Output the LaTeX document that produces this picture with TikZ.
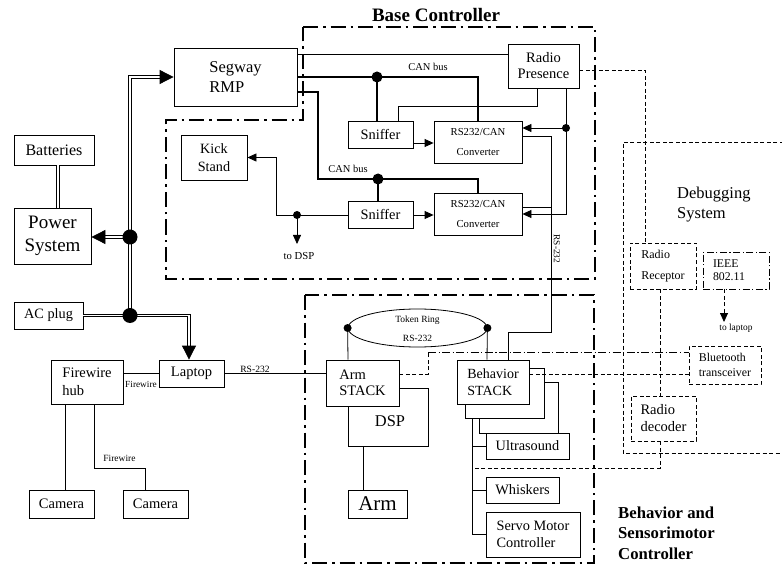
\documentclass[tikz,border=0pt]{standalone}
\usepackage{fontspec}
\setmainfont{Liberation Serif}
\usetikzlibrary{arrows.meta,shapes.geometric}
\newcommand{\fsz}[2]{\fontsize{#1}{#2}\selectfont}
\begin{document}
\begin{tikzpicture}[x=1pt,y=-1pt,
  box/.style={draw, line width=0.8pt, fill=white, inner sep=0pt, align=left},
  dbox/.style={box, dash pattern=on 4pt off 2.5pt},
  ddbox/.style={box, dash pattern=on 7pt off 2.5pt on 1.2pt off 2.5pt},
  ln/.style={line width=0.8pt},
  canbus/.style={line width=2.6pt},
  dbl/.style={line width=0.8pt, double=white, double distance=1.8pt},
  dsh/.style={line width=0.8pt, dash pattern=on 4pt off 2.5pt},
  dshdot/.style={line width=0.8pt, dash pattern=on 8pt off 2.5pt on 1.2pt off 2.5pt},
  region/.style={line width=2.6pt, dash pattern=on 15pt off 5pt on 2.5pt off 5pt},
  arrbig/.style={-{Triangle[length=14pt,width=14pt]}},
  arr/.style={-{Triangle[length=9pt,width=8pt]}},
  jdot/.style={circle, fill, inner sep=0pt, minimum size=#1},
  lbl/.style={inner sep=0pt, font=\fsz{#1}{#1}},
]
\useasboundingbox (0,0) rectangle (782,572);
% regions
\draw[region] (303,27) -- (595,27) -- (595,279) -- (166,279) -- (166,120) -- (303,120) -- cycle;
\draw[region] (305,295) rectangle (594,563);
\draw[dsh] (790,142) -- (623,142) -- (623,453) -- (790,453);
\node[font=\bfseries\fsz{19}{22}, inner sep=0pt] (basetitle) at (436,15) {Base Controller};
\node[font=\bfseries\fsz{16.7}{20.5}, align=left, anchor=west, inner sep=0pt] (bsctitle) at (618,533) {Behavior and\\Sensorimotor\\Controller};
\node[font=\fsz{16.5}{20}, align=left, anchor=west, inner sep=0pt] (dbgtitle) at (677,205) {Debugging\\System};

\coordinate (jP) at (130,237);
\coordinate (jA) at (130,315.5);

% boxes
\node[box, minimum width=123pt, minimum height=58pt, font=\fsz{16.5}{20}] (segway) at (235.5,77) {Segway\\RMP};
\node[box, minimum width=80pt, minimum height=30pt, font=\fsz{16}{18}] (batteries) at (54,150) {Batteries};
\node[box, align=center, minimum width=77pt, minimum height=56pt, font=\fsz{19}{23}] (power) at (52.5,236) {Power\\System};
\node[box, minimum width=69pt, minimum height=27pt, font=\fsz{14.3}{16}] (acplug) at (48.5,315.5) {AC plug};
\node[box, minimum width=65pt, minimum height=27pt, font=\fsz{14.5}{16}] (laptop) at (191.5,373.5) {Laptop};
\node[box, minimum width=72pt, minimum height=44pt, font=\fsz{14.5}{18}] (fwhub) at (87,382) {Firewire\\hub};
\node[box, minimum width=65pt, minimum height=28pt, font=\fsz{14.5}{16}] (cam1) at (61.5,504) {Camera};
\node[box, minimum width=65pt, minimum height=28pt, font=\fsz{14.5}{16}] (cam2) at (155.5,504) {Camera};
\node[box, align=center, minimum width=66pt, minimum height=45pt, font=\fsz{14.2}{18}] (kick) at (214,157.5) {Kick\\Stand};
\node[box, minimum width=65pt, minimum height=27pt, font=\fsz{14.4}{16}] (sniff1) at (380.5,134.5) {Sniffer};
\node[box, minimum width=65pt, minimum height=27pt, font=\fsz{14.4}{16}] (sniff2) at (380.5,214.5) {Sniffer};
\node[box, align=center, minimum width=88pt, minimum height=42pt, font=\fsz{10.7}{20}] (conv1) at (478,142) {RS232/CAN\\Converter};
\node[box, align=center, minimum width=88pt, minimum height=42pt, font=\fsz{10.7}{20}] (conv2) at (478,214) {RS232/CAN\\Converter};
\node[box, align=center, minimum width=71pt, minimum height=44pt, font=\fsz{14.5}{16}] (radiop) at (543.5,66) {Radio\\Presence};
\node[dbox, minimum width=66pt, minimum height=46pt, font=\fsz{12}{21}] (radiorec) at (663,266) {Radio\\Receptor};
\node[ddbox, minimum width=66pt, minimum height=37pt, text width=46pt, inner xsep=10pt, font=\fsz{11.8}{13}] (ieee) at (736,270.5) {IEEE\\802.11};
\node[dbox, minimum width=72pt, minimum height=38pt, font=\fsz{11.9}{15}] (bluetooth) at (725,365) {Bluetooth\\transceiver};
\node[dbox, minimum width=65pt, minimum height=45pt, font=\fsz{14.5}{17}] (raddec) at (663.5,418.5) {Radio\\decoder};
\node[box, minimum width=80pt, minimum height=58pt] (dsp) at (388,417) {};
\node[box, minimum width=73pt, minimum height=46pt, font=\fsz{14.5}{16}] (armstack) at (362.5,383) {Arm\\STACK};
\node[lbl=16.4] (dsptext) at (390,421) {DSP};
\node[box, minimum width=59pt, minimum height=28pt, font=\fsz{21}{24}] (arm) at (377.5,504) {Arm};
\node[box, minimum width=79pt, minimum height=51pt] (b3) at (518.5,407.5) {};
\node[box, minimum width=79pt, minimum height=50pt] (b2) at (504.5,393) {};
\node[box, minimum width=72pt, minimum height=44pt, font=\fsz{14}{17}] (b1) at (493,382) {Behavior\\STACK};
\node[box, minimum width=83pt, minimum height=26pt, font=\fsz{14.3}{16}] (ultra) at (527.5,446) {Ultrasound};
\node[box, minimum width=73pt, minimum height=26pt, font=\fsz{14.4}{16}] (whisk) at (522.5,490) {Whiskers};
\node[box, minimum width=94pt, minimum height=45pt, font=\fsz{14.3}{17}] (servo) at (533,534.5) {Servo Motor\\Controller};
\node[draw, line width=0.8pt, ellipse, minimum width=139pt, minimum height=38pt, inner sep=0pt] (token) at (417.5,328) {};
\node[lbl=9.5] (tokentxt) at (417.5,320) {Token Ring};
\node[lbl=9.5] (tokenrs) at (417.5,338) {RS-232};

% power connectors
\draw[dbl] ([xshift=4pt]batteries.south) -- ([xshift=5.5pt]power.north);
\draw[dbl, arrbig] (jA) |- (segway.west);
\draw[dbl, arrbig] (jP) -- (jP -| power.east);
\draw[dbl] (acplug.east) -- (jA);
\draw[dbl, arrbig] (jA) -| ([xshift=-2.5pt]laptop.north);

% firewire and laptop
\draw[ln] (laptop.west) -- (laptop.west -| fwhub.east);
\node[lbl=9.3] (fwlbl1) at (141,384) {Firewire};
\draw[ln] ([xshift=-22pt]fwhub.south) -- ([xshift=3.5pt]cam1.north);
\draw[ln] ([xshift=7pt]fwhub.south) |- (145,468) -- ([xshift=-10.5pt]cam2.north);
\node[lbl=9.5] (fwlbl2) at (119.5,458) {Firewire};
\draw[ln] (laptop.east) -- (laptop.east -| armstack.west);
\node[lbl=9.6] (rslbl1) at (255,369) {RS-232};

% base controller
\draw[ln] (segway.east |- 0,54) -- (radiop.west |- 0,54);
\draw[canbus] (segway.east) -| (conv1.north);
\coordinate (c1) at (377,77);
\draw[canbus] (c1) -- (c1 |- sniff1.north);
\node[lbl=10.5] (canlbl1) at (428,67) {CAN bus};
\draw[canbus] (segway.east |- 0,92) -| (318,179) -| (conv2.north);
\coordinate (c2) at (378,179);
\draw[canbus] (c2) -- (c2 |- sniff2.north);
\node[lbl=10.5] (canlbl2) at (348,169) {CAN bus};
\draw[ln] ([xshift=-6.5pt]radiop.south) |- (398,106) -- ([xshift=17.5pt]sniff1.north);
\draw[ln, arr] ([xshift=22.5pt]radiop.south) |- (conv2.east);
\coordinate (j3) at (566,128);
\draw[ln, arr] (j3) -- (j3 -| conv1.east);
\draw[ln, arr] (sniff1.east |- 0,143) -- (conv1.west |- 0,143);
\draw[ln, arr] (sniff2.east |- 0,215) -- (conv2.west |- 0,215);
\draw[ln] (conv1.east |- 0,136) -| (551,332) -| ([xshift=15pt]b1.north);
\draw[ln] (conv2.east |- 0,207) -- (551,207);
\node[lbl=9.3, rotate=-90] (rslbl2) at (557,249) {RS-232};
\coordinate (j4) at (297,215);
\coordinate (dspend) at (297,244);
\draw[ln] (sniff2.west |- 0,215) -- (j4);
\draw[ln, arr] (j4) -- (276,215) |- (kick.east);
\draw[ln, arr] (j4) -- (dspend);
\node[lbl=10.7] (todsp) at (299,256) {to DSP};

% debugging
\coordinate (busr) at (472,468);
\coordinate (tolap) at (724,322);
\draw[dsh] (radiop.east |- 0,70) -| ([xshift=-18pt]radiorec.north);
\draw[dsh] ([xshift=-3pt]radiorec.south) -- ([xshift=-3.5pt]raddec.north);
\draw[dsh] ([xshift=-3.5pt]raddec.south) |- (busr);
\draw[dsh, arr] ([xshift=-12pt]ieee.south) -- (tolap);
\node[lbl=9.4] (tolaplbl) at (736,328) {to laptop};
\draw[dsh] (armstack.east |- 0,374) -| (428,352);
\draw[dshdot] (428,352) -- (bluetooth.west |- 0,352);
\draw[dsh] (b1.east |- 0,374) -- (bluetooth.west |- 0,374);

% token ring, DSP, bus
\draw[ln] ([xshift=-14.5pt]armstack.north) -- (token.west);
\draw[ln] ([xshift=-6pt]b1.north) -- (token.east);
\draw[ln] ([xshift=-25pt]dsp.south) -- ([xshift=-14.5pt]arm.north);
\draw[ln] ([xshift=-32.5pt]b2.south) |- (servo.west);
\draw[ln] (ultra.west -| 472,0) -- (ultra.west);
\draw[ln] (whisk.west -| 472,0) -- (whisk.west);

% junction dots
\node[jdot=15pt] (dotP) at (jP) {};
\node[jdot=15pt] (dotA) at (jA) {};
\node[jdot=11pt] (dotc1) at (c1) {};
\node[jdot=11pt] (dotc2) at (c2) {};
\node[jdot=8pt] (dotj3) at (j3) {};
\node[jdot=8pt] (dotj4) at (j4) {};
\node[jdot=8pt] (dottw) at (token.west) {};
\node[jdot=8pt] (dotte) at (token.east) {};
\end{tikzpicture}
\end{document}
